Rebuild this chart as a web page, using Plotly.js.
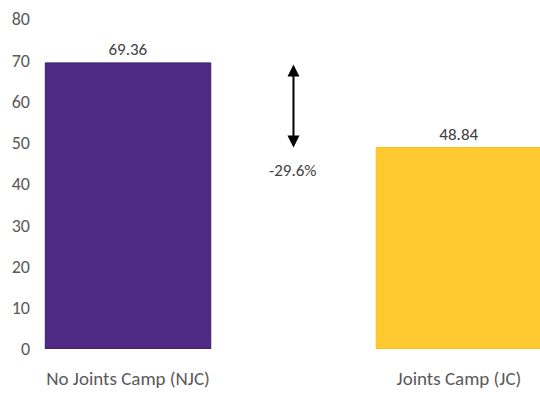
<!DOCTYPE html>
<html>
<head>
<meta charset="utf-8">
<script src="https://cdn.plot.ly/plotly-3.0.1.min.js"></script>
<style>html,body{margin:0;padding:0;background:#fff;}#chart{width:540px;height:402px;}</style>
</head>
<body>
<div id="chart"></div>
<script>
const categories = ["No Joints Camp (NJC)", "Joints Camp (JC)"];
const values = [69.36, 48.84];
const barColors = ["#4E2A84", "#FFCA2F"];
const yTicks = [0, 10, 20, 30, 40, 50, 60, 70, 80];

const change = (values[1] - values[0]) / values[0] * 100;
const changeLabel = change.toFixed(1) + "%";

const font = "Calibri, Carlito, 'Noto Sans', 'Open Sans', sans-serif";

const trace = {
  type: "bar",
  x: categories,
  y: values,
  width: 0.5,
  marker: { color: barColors, line: { color: ["#3E1F70", "#F5C020"], width: 1 } },
  text: values.map(v => v.toFixed(2)),
  textposition: "outside",
  textfont: { family: font, size: 17, color: "#404040" },
  cliponaxis: false,
  hoverinfo: "skip"
};

const layout = {
  width: 540, height: 402,
  margin: { l: 40, r: 0, t: 19, b: 53 },
  paper_bgcolor: "#ffffff",
  plot_bgcolor: "#ffffff",
  showlegend: false,
  font: { family: font, size: 17, color: "#595959" },
  xaxis: {
    type: "category",
    range: [-0.266, 1.245],
    showgrid: false, zeroline: false, showline: false,
    ticks: "", ticklabelstandoff: 16,
    tickfont: { family: font, size: 19, color: "#595959" }
  },
  yaxis: {
    range: [0, 80],
    tickvals: yTicks,
    showgrid: false, zeroline: false, showline: false,
    ticks: "", ticklabelstandoff: 9,
    tickfont: { family: font, size: 18, color: "#595959" }
  },
  annotations: [
    {
      x: 0.5, y: values[1], xref: "x", yref: "y",
      ax: 0.5, ay: values[0], axref: "x", ayref: "y",
      text: "", showarrow: true,
      arrowhead: 2, startarrowhead: 2, arrowside: "end+start",
      arrowsize: 1.2, startarrowsize: 1.2, arrowwidth: 2, arrowcolor: "#000000"
    },
    {
      x: 0.5, y: values[1] - 5.6, xref: "x", yref: "y",
      text: changeLabel, showarrow: false,
      font: { family: font, size: 17, color: "#404040" }
    }
  ]
};

Plotly.newPlot("chart", [trace], layout, { displayModeBar: false, staticPlot: true });
</script>
</body>
</html>
